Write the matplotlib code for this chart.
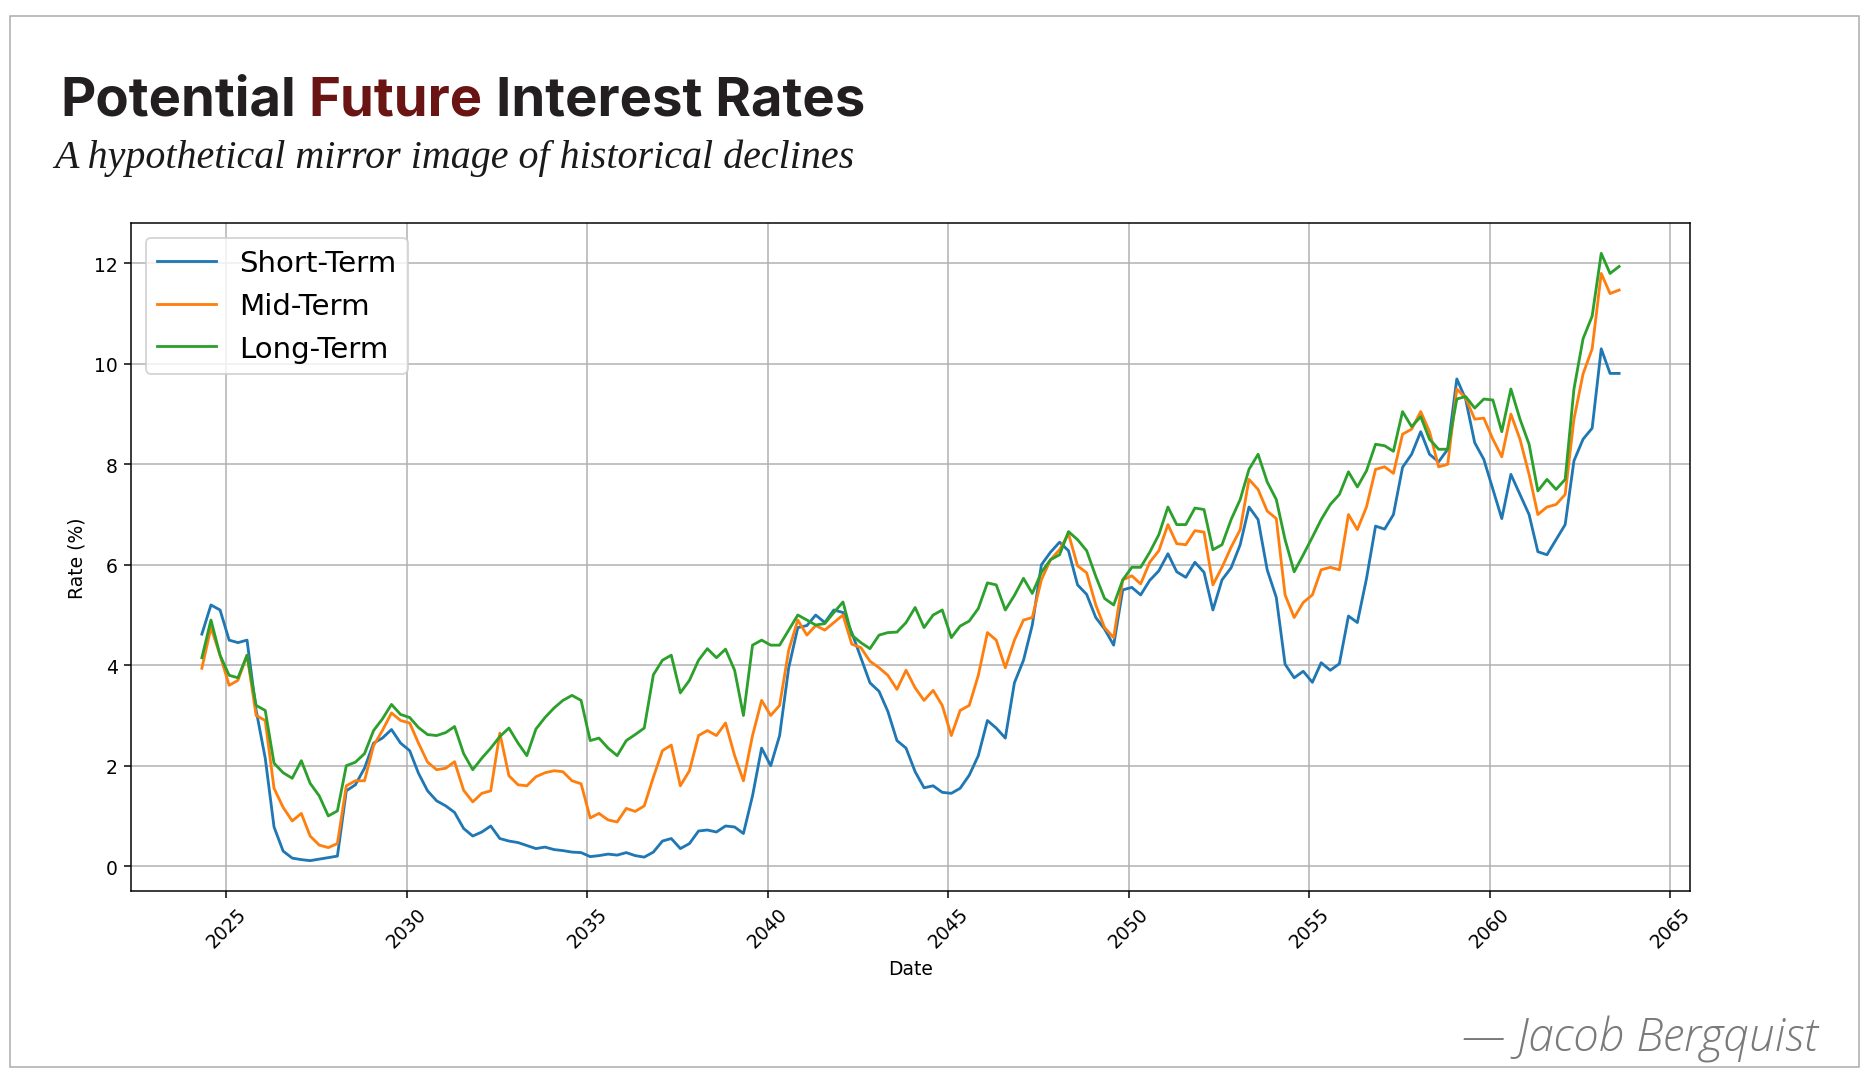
import matplotlib

matplotlib.use("Agg")
import matplotlib.dates as mdates
import matplotlib.pyplot as plt
import pandas as pd
from matplotlib.patches import Rectangle

# quarterly samples, May 2024 onwards
DATES = pd.date_range("2024-05-01", periods=158, freq="3MS")

SHORT_TERM = [
    4.62, 5.2, 5.1, 4.5, 4.45, 4.5, 3.1, 2.15, 0.78, 0.3,
    0.16, 0.13, 0.11, 0.14, 0.17, 0.2, 1.5, 1.62, 1.95, 2.45,
    2.55, 2.72, 2.45, 2.3, 1.85, 1.5, 1.3, 1.2, 1.07, 0.75,
    0.6, 0.68, 0.8, 0.55, 0.5, 0.47, 0.41, 0.35, 0.38, 0.33,
    0.31, 0.28, 0.27, 0.19, 0.21, 0.24, 0.22, 0.27, 0.21, 0.18,
    0.28, 0.5, 0.55, 0.35, 0.45, 0.7, 0.72, 0.68, 0.8, 0.78,
    0.65, 1.4, 2.35, 2.0, 2.6, 3.95, 4.75, 4.79, 5.0, 4.85,
    5.1, 5.05, 4.65, 4.15, 3.65, 3.48, 3.08, 2.5, 2.35, 1.88,
    1.56, 1.6, 1.47, 1.45, 1.55, 1.81, 2.2, 2.9, 2.75, 2.55,
    3.65, 4.1, 4.8, 6.0, 6.25, 6.45, 6.28, 5.6, 5.41, 4.95,
    4.72, 4.4, 5.5, 5.55, 5.4, 5.69, 5.88, 6.22, 5.86, 5.75,
    6.05, 5.85, 5.1, 5.7, 5.94, 6.4, 7.15, 6.9, 5.9, 5.35,
    4.02, 3.75, 3.88, 3.66, 4.05, 3.9, 4.03, 4.98, 4.85, 5.72,
    6.77, 6.71, 7.0, 7.94, 8.2, 8.65, 8.2, 8.05, 8.3, 9.7,
    9.3, 8.43, 8.1, 7.5, 6.92, 7.8, 7.4, 7.0, 6.26, 6.2,
    6.5, 6.8, 8.07, 8.5, 8.72, 10.3, 9.81, 9.81,
]

MID_TERM = [
    3.94, 4.75, 4.2, 3.6, 3.7, 4.2, 3.0, 2.9, 1.55, 1.17,
    0.9, 1.05, 0.6, 0.42, 0.37, 0.45, 1.6, 1.7, 1.7, 2.4,
    2.7, 3.05, 2.9, 2.85, 2.45, 2.07, 1.92, 1.95, 2.08, 1.51,
    1.28, 1.45, 1.5, 2.65, 1.8, 1.62, 1.6, 1.78, 1.86, 1.9,
    1.88, 1.7, 1.64, 0.96, 1.05, 0.92, 0.88, 1.15, 1.09, 1.2,
    1.77, 2.3, 2.41, 1.6, 1.9, 2.6, 2.7, 2.6, 2.85, 2.2,
    1.7, 2.6, 3.3, 3.0, 3.2, 4.3, 4.9, 4.6, 4.79, 4.7,
    4.85, 5.0, 4.42, 4.35, 4.08, 3.95, 3.8, 3.52, 3.9, 3.55,
    3.3, 3.5, 3.2, 2.6, 3.1, 3.2, 3.8, 4.65, 4.5, 3.95,
    4.5, 4.9, 4.95, 5.7, 6.1, 6.3, 6.62, 5.98, 5.84, 5.2,
    4.75, 4.55, 5.7, 5.78, 5.62, 6.05, 6.28, 6.8, 6.42, 6.4,
    6.68, 6.65, 5.6, 5.95, 6.35, 6.7, 7.7, 7.5, 7.07, 6.92,
    5.4, 4.95, 5.25, 5.4, 5.9, 5.95, 5.9, 7.0, 6.7, 7.15,
    7.9, 7.95, 7.82, 8.6, 8.7, 9.05, 8.65, 7.95, 8.0, 9.5,
    9.32, 8.9, 8.92, 8.5, 8.15, 9.0, 8.5, 7.8, 7.0, 7.15,
    7.2, 7.4, 8.9, 9.8, 10.3, 11.8, 11.4, 11.47,
]

LONG_TERM = [
    4.15, 4.9, 4.2, 3.8, 3.75, 4.2, 3.2, 3.1, 2.05, 1.86,
    1.75, 2.1, 1.65, 1.4, 1.0, 1.1, 2.0, 2.07, 2.24, 2.7,
    2.93, 3.22, 3.02, 2.96, 2.76, 2.62, 2.6, 2.66, 2.78, 2.24,
    1.92, 2.15, 2.35, 2.58, 2.75, 2.45, 2.2, 2.73, 2.96, 3.15,
    3.3, 3.4, 3.3, 2.5, 2.55, 2.35, 2.2, 2.5, 2.62, 2.75,
    3.81, 4.1, 4.2, 3.45, 3.7, 4.1, 4.33, 4.15, 4.32, 3.9,
    3.0, 4.4, 4.5, 4.4, 4.4, 4.7, 5.0, 4.9, 4.8, 4.83,
    5.05, 5.26, 4.6, 4.45, 4.33, 4.6, 4.65, 4.66, 4.85, 5.15,
    4.75, 5.0, 5.1, 4.55, 4.78, 4.88, 5.13, 5.64, 5.6, 5.1,
    5.39, 5.73, 5.43, 5.85, 6.1, 6.2, 6.66, 6.5, 6.28, 5.77,
    5.33, 5.2, 5.7, 5.95, 5.95, 6.25, 6.6, 7.15, 6.8, 6.8,
    7.13, 7.1, 6.3, 6.4, 6.9, 7.3, 7.9, 8.2, 7.65, 7.3,
    6.5, 5.86, 6.2, 6.55, 6.9, 7.2, 7.4, 7.85, 7.55, 7.87,
    8.4, 8.37, 8.26, 9.05, 8.75, 8.95, 8.5, 8.3, 8.3, 9.3,
    9.35, 9.12, 9.3, 9.28, 8.65, 9.5, 8.9, 8.4, 7.47, 7.7,
    7.5, 7.7, 9.5, 10.5, 10.95, 12.2, 11.8, 11.94,
]

LABELS = ["Short-Term", "Mid-Term", "Long-Term"]
COLORS = ["#1f77b4", "#ff7f0e", "#2ca02c"]

TITLE_PARTS = ["Potential", "Future", "Interest Rates"]
SUBTITLE = "A hypothetical mirror image of historical declines"
SIGNATURE = "\u2014 Jacob Bergquist"

W, H = 1869, 1091
DPI = 135
INK = "#231f20"
ACCENT = "#6b1414"


def fx(px):
    return px / W


def fy(px):
    return 1 - px / H


def fit_width(text, target, renderer):
    for _ in range(4):
        w = text.get_window_extent(renderer).width
        text.set_fontsize(text.get_fontsize() * target / w)


def main():
    fig = plt.figure(figsize=(W / DPI, H / DPI), dpi=DPI, facecolor="white")
    ax = fig.add_axes([fx(131), fy(892), fx(1690) - fx(131), fy(224) - fy(892)])

    for values, label, color in zip([SHORT_TERM, MID_TERM, LONG_TERM], LABELS, COLORS):
        ax.plot(DATES, values, color=color, lw=1.5, label=label)

    ax.grid(True)
    ax.set_xlabel("Date")
    ax.set_ylabel("Rate (%)")
    ax.xaxis.set_major_locator(mdates.YearLocator(5))
    ax.xaxis.set_major_formatter(mdates.DateFormatter("%Y"))
    plt.setp(ax.get_xticklabels(), rotation=45)
    ax.legend(loc="upper left", fontsize=15.6)

    r = fig.canvas.get_renderer()

    # title in three pieces so "Future" can take the accent colour
    tkw = dict(family=["Inter", "DejaVu Sans"], weight="bold", va="baseline")
    full = " ".join(TITLE_PARTS)
    probe = fig.text(0, 0, full, fontsize=30, **tkw)
    fit_width(probe, 805, r)
    fs = probe.get_fontsize()

    def width(s):
        probe.set_text(s)
        return probe.get_window_extent(r).width

    x0 = 60
    offsets = [
        0,
        width("Potential Future") - width("Future"),
        width(full) - width("Interest Rates"),
    ]
    probe.remove()
    for part, off, color in zip(TITLE_PARTS, offsets, [INK, ACCENT, INK]):
        fig.text(fx(x0 + off), fy(116), part, fontsize=fs, color=color, **tkw)

    sub = fig.text(fx(54), fy(168), SUBTITLE, fontsize=28, style="italic",
                   family=["Liberation Serif", "DejaVu Serif"], color="#1a1a1a", va="baseline")
    fit_width(sub, 802, r)

    sig = fig.text(fx(1818), fy(1052), SIGNATURE, fontsize=20, style="italic", weight="light",
                   family=["Open Sans", "DejaVu Sans"], color="#7a7a7a", ha="right", va="baseline")
    fit_width(sig, 355, r)

    fig.patches.append(
        Rectangle((fx(10), fy(1068)), fx(1859) - fx(10), fy(17) - fy(1068),
                  transform=fig.transFigure, fill=False, edgecolor="#aaaaaa", lw=0.8)
    )

    fig.savefig("out.png", dpi=DPI, facecolor="white")
    plt.close(fig)


if __name__ == "__main__":
    main()
